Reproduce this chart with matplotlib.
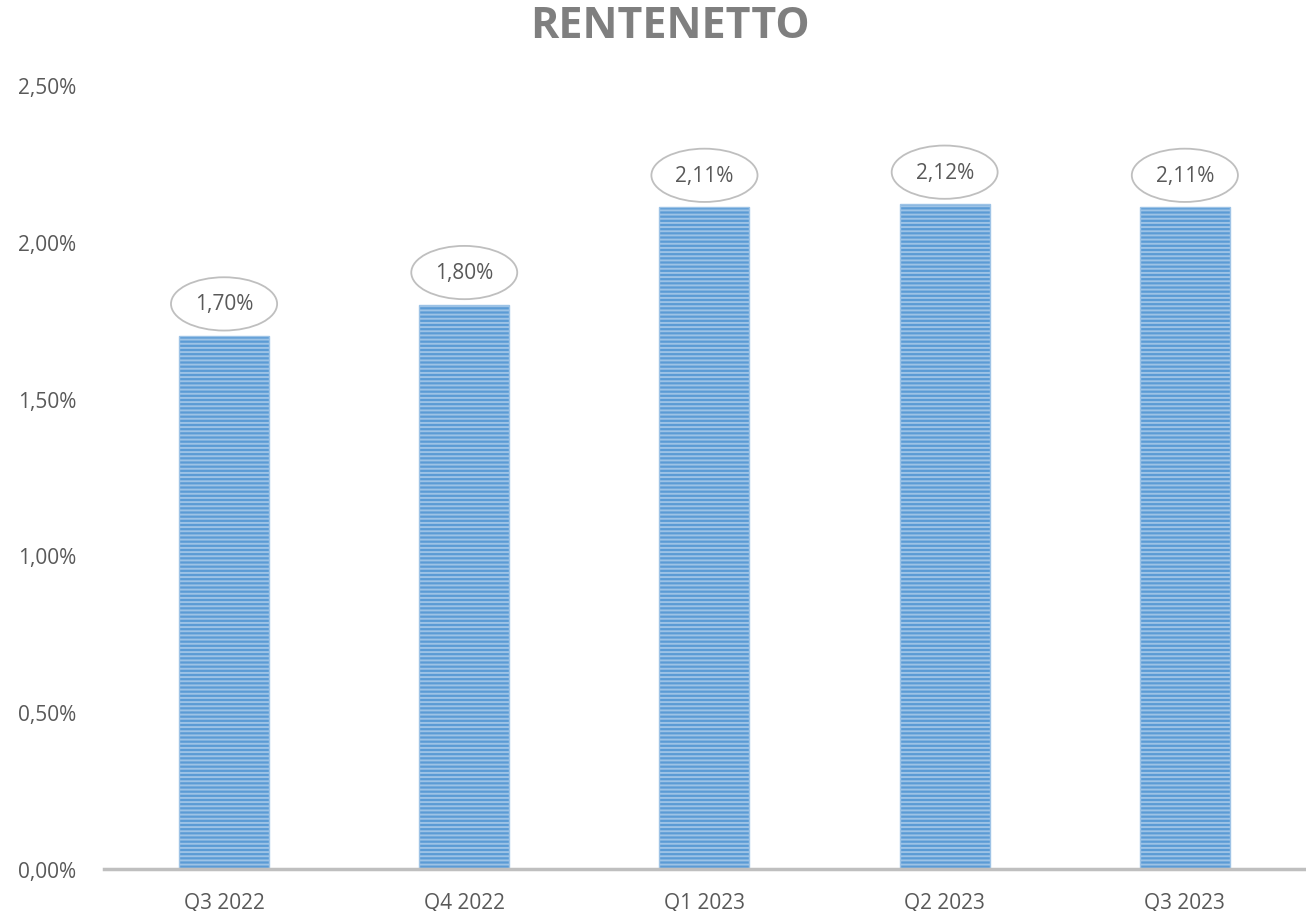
import matplotlib.pyplot as plt
from matplotlib.ticker import FuncFormatter

plt.rcParams['font.family'] = ['Open Sans', 'DejaVu Sans']
plt.rcParams['hatch.color'] = 'white'
plt.rcParams['hatch.linewidth'] = 1.4

# dati
quarters = ['Q3 2022', 'Q4 2022', 'Q1 2023', 'Q2 2023', 'Q3 2023']
rentenetto = [1.70, 1.80, 2.11, 2.12, 2.11]
y_ticks = [0.0, 0.5, 1.0, 1.5, 2.0, 2.5]

fig = plt.figure(figsize=(13.06, 9.12), dpi=100)
ax = fig.add_axes([0.0796, 0.046, 0.9196, 0.8597])

x = range(len(quarters))
ax.bar(x, rentenetto, width=0.375, color='#5B9BD5', edgecolor='#9DC3E6',
       linewidth=1.0, hatch='----', zorder=2)

for xi, v in zip(x, rentenetto):
    ax.annotate(f'{v:.2f}%'.replace('.', ','), (xi, v), xytext=(0, 32),
                textcoords='offset pixels', ha='center', va='center',
                fontsize=15, color='#595959',
                bbox=dict(boxstyle='ellipse,pad=0.4', fc='white',
                          ec='#BFBFBF', lw=1.3))

ax.set_xlim(-0.5, len(quarters) - 0.5)
ax.set_ylim(0, 2.5)
ax.set_xticks(list(x))
ax.set_xticklabels(quarters)
ax.set_yticks(y_ticks)
ax.yaxis.set_major_formatter(FuncFormatter(lambda v, p: f'{v:.2f}%'.replace('.', ',')))
ax.tick_params(axis='both', length=0, labelsize=15, labelcolor='#595959')
ax.tick_params(axis='x', pad=16)
ax.tick_params(axis='y', pad=20)

for s in ['top', 'right', 'left']:
    ax.spines[s].set_visible(False)
ax.spines['bottom'].set_color('#BFBFBF')
ax.spines['bottom'].set_linewidth(2.5)
ax.spines['bottom'].set_zorder(3)

fig.text(0.513, 0.971, 'RENTENETTO', ha='center', va='center',
         fontsize=31, fontweight='bold', color='#7F7F7F')

fig.savefig('out.png', dpi=100)
